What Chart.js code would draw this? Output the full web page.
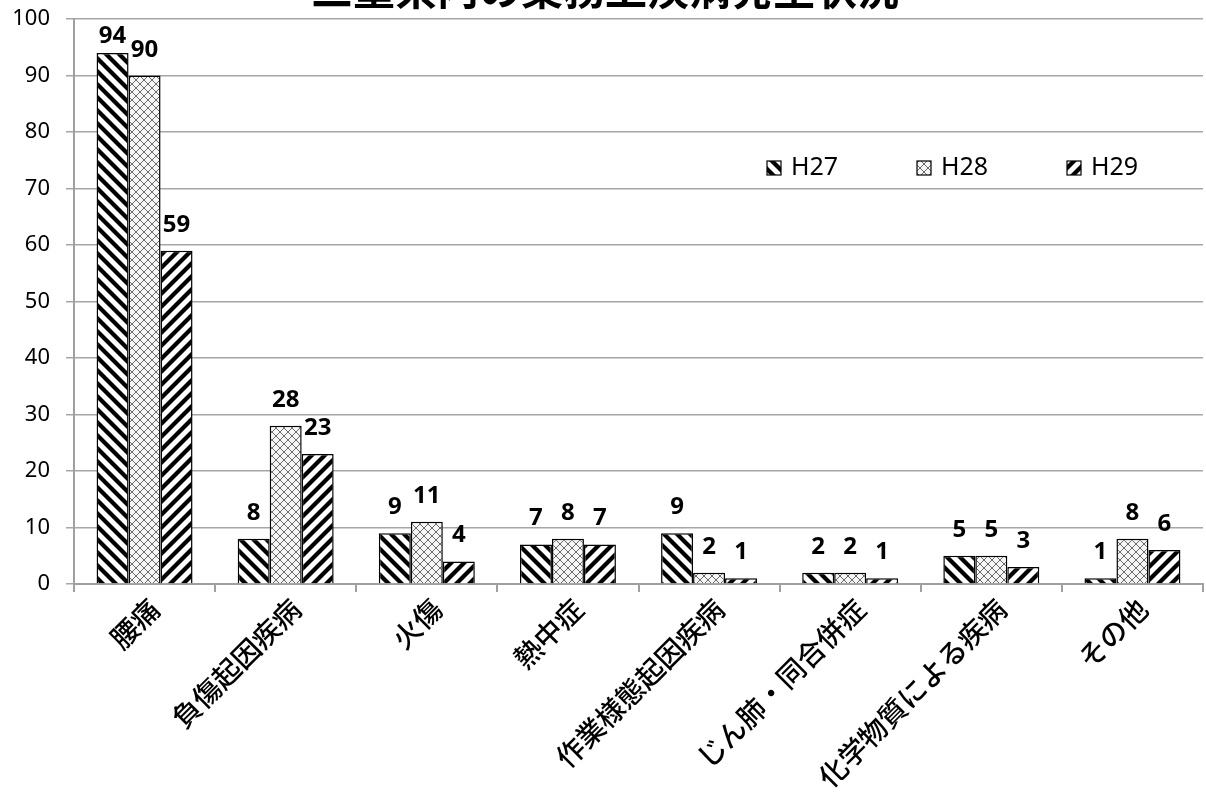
<!DOCTYPE html>
<html><head><meta charset="utf-8">
<script src="https://cdn.jsdelivr.net/npm/chart.js@4.4.1/dist/chart.umd.min.js"></script>
<style>html,body{margin:0;padding:0;background:#fff;overflow:hidden}</style>
</head><body>
<canvas id="c" width="1206" height="800" style="display:block;width:1206px;height:800px"></canvas>
<script>
const chartTitle = '三重県内の業務上疾病発生状況';
const categories = ['腰痛','負傷起因疾病','火傷','熱中症','作業様態起因疾病','じん肺・同合併症','化学物質による疾病','その他'];
const seriesNames = ['H27','H28','H29'];
const h27 = [94, 8, 9, 7, 9, 2, 5, 1];
const h28 = [90, 28, 11, 8, 2, 2, 5, 8];
const h29 = [59, 23, 4, 7, 1, 1, 3, 6];
const yMin = 0, yMax = 100, yStep = 10;

const canvas = document.getElementById('c');
const ctx = canvas.getContext('2d');

function stripePattern(dir) {
  const s = 13;
  const c = document.createElement('canvas');
  c.width = c.height = s;
  const g = c.getContext('2d');
  g.fillStyle = '#fff'; g.fillRect(0, 0, s, s);
  g.strokeStyle = '#000'; g.lineWidth = 4.2;
  for (let k = -1; k <= 1; k++) {
    g.beginPath();
    if (dir > 0) { g.moveTo(k * s - 2, -2); g.lineTo(k * s + s + 2, s + 2); }
    else { g.moveTo(k * s - 2, s + 2); g.lineTo(k * s + s + 2, -2); }
    g.stroke();
  }
  return ctx.createPattern(c, 'repeat');
}
function crossPattern() {
  const s = 8;
  const c = document.createElement('canvas');
  c.width = c.height = s;
  const g = c.getContext('2d');
  g.fillStyle = '#f6f6f6'; g.fillRect(0, 0, s, s);
  g.strokeStyle = '#6a6a6a'; g.lineWidth = 1;
  for (let k = -1; k <= 1; k++) {
    g.beginPath(); g.moveTo(k * s, 0); g.lineTo(k * s + s, s); g.stroke();
    g.beginPath(); g.moveTo(k * s, s); g.lineTo(k * s + s, 0); g.stroke();
  }
  return ctx.createPattern(c, 'repeat');
}
const fills = [stripePattern(1), crossPattern(), stripePattern(-1)];
const seriesData = [h27, h28, h29];

const titlePlugin = {
  id: 'topTitle',
  afterDraw(chart) {
    const c = chart.ctx;
    c.save();
    c.font = 'bold 42px "Noto Sans CJK JP"';
    c.fillStyle = '#000';
    c.textAlign = 'center';
    c.textBaseline = 'alphabetic';
    c.fillText(chartTitle, 605, 5);
    c.restore();
  }
};

const labelPlugin = {
  id: 'valueLabels',
  afterDatasetsDraw(chart) {
    const c = chart.ctx;
    const top = chart.chartArea.top;
    c.save();
    c.font = 'bold 24px "Noto Sans"';
    c.fillStyle = '#000';
    c.textAlign = 'center';
    c.textBaseline = 'alphabetic';
    chart.data.datasets.forEach((ds, i) => {
      chart.getDatasetMeta(i).data.forEach((el, j) => {
        const y = Math.max(el.y - 19, top + 24);
        c.fillText(String(ds.data[j]), el.x, y);
      });
    });
    c.restore();
  }
};

const legendPlugin = {
  id: 'innerLegend',
  afterDraw(chart) {
    const c = chart.ctx;
    const xs = [767, 917, 1067];
    const y = 161;
    c.save();
    c.font = '25px "Noto Sans"';
    c.textBaseline = 'middle';
    c.textAlign = 'left';
    seriesNames.forEach((n, i) => {
      c.fillStyle = fills[i];
      c.fillRect(xs[i], y, 14, 14);
      c.strokeStyle = '#000';
      c.lineWidth = 1.2;
      c.strokeRect(xs[i], y, 14, 14);
      c.fillStyle = '#000';
      c.fillText(n, xs[i] + 24, y + 7);
    });
    c.restore();
  }
};

new Chart(ctx, {
  type: 'bar',
  data: {
    labels: categories,
    datasets: seriesNames.map((n, i) => ({
      label: n,
      data: seriesData[i],
      backgroundColor: fills[i],
      borderColor: '#000',
      borderWidth: 1.5,
      borderSkipped: 'bottom',
      categoryPercentage: 0.68,
      barPercentage: 1.0
    }))
  },
  options: {
    responsive: false,
    animation: false,
    devicePixelRatio: 1,
    layout: { padding: { top: 19, right: 3, left: 0, bottom: 0 } },
    plugins: { legend: { display: false }, title: { display: false }, tooltip: { enabled: false } },
    scales: {
      x: {
        afterFit(scale) { scale.height = 216; scale.paddingTop = 0; },
        border: { display: true, color: '#a0a0a0', width: 2 },
        grid: { display: true, offset: true, drawOnChartArea: false, drawTicks: true, tickLength: 8, color: '#a0a0a0', lineWidth: 2 },
        ticks: { minRotation: 45, maxRotation: 45, autoSkip: false, color: '#000', padding: 0, labelOffset: 10,
          font: { family: '"Noto Sans CJK JP"', size: 28, weight: 500 } }
      },
      y: {
        min: yMin, max: yMax,
        afterFit(scale) { scale.width = 74; scale.paddingTop = 0; scale.paddingBottom = 0; },
        border: { display: true, color: '#a0a0a0', width: 2 },
        grid: { color: '#a6a6a6', lineWidth: 1.5, tickLength: 8 },
        ticks: { stepSize: yStep, color: '#000', padding: 16, font: { family: '"Noto Sans"', size: 22 } }
      }
    }
  },
  plugins: [labelPlugin, legendPlugin, titlePlugin]
});
</script>
</body></html>
